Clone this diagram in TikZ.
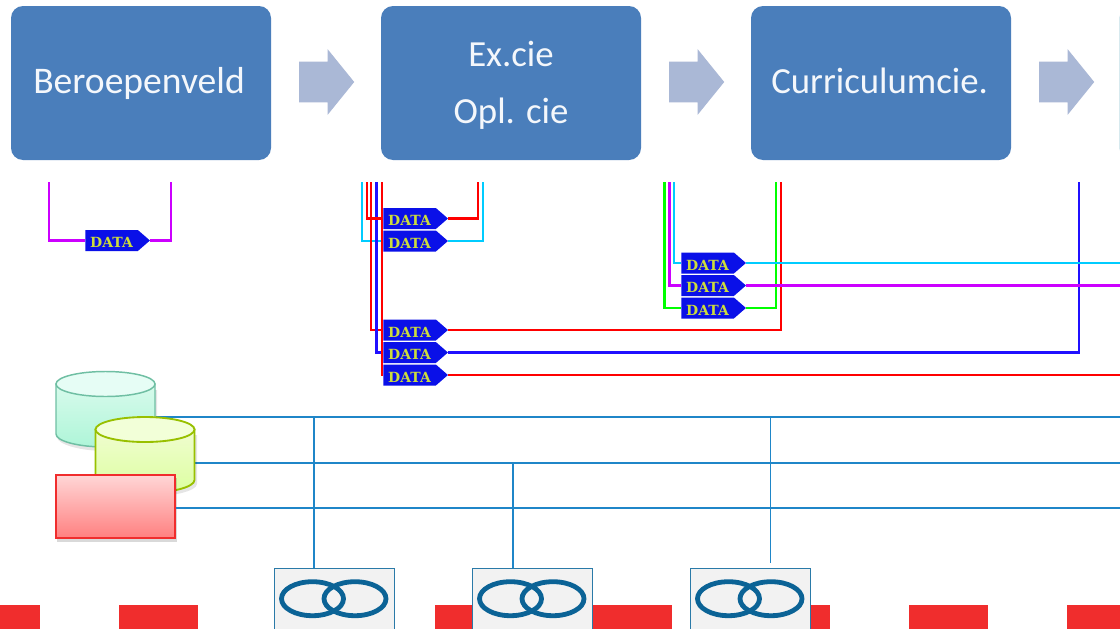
\documentclass[tikz,border=0pt]{standalone}
\usepackage{fontspec}
\setmainfont{Carlito}
\newfontfamily\datafont{DejaVu Serif}[BoldFont={DejaVu Serif Bold}]
\usetikzlibrary{shapes.geometric,shapes.symbols,shapes.arrows}
\definecolor{stepblue}{HTML}{4A7EBB}
\definecolor{stepteal}{HTML}{8FC4D4}
\definecolor{arrowblue}{HTML}{AAB8D6}
\definecolor{datablue}{HTML}{0A10E8}
\definecolor{datayellow}{HTML}{CCDC3C}
\definecolor{busblue}{HTML}{1F86C8}
\definecolor{ringblue}{HTML}{0B6396}
\definecolor{boxline}{HTML}{2A7AA8}
\definecolor{barred}{HTML}{F02D2D}
\definecolor{lmag}{HTML}{CC00FF}
\definecolor{lcyan}{HTML}{00CCFF}
\definecolor{lred}{HTML}{FF0000}
\definecolor{lblue}{HTML}{2010FF}
\definecolor{lgreen}{HTML}{00FF00}
\definecolor{tealline}{HTML}{6FBFA3}
\definecolor{tealtopc}{HTML}{E6FDF5}
\definecolor{tealbodyt}{HTML}{D8FBEC}
\definecolor{tealbodyb}{HTML}{AEF5D8}
\definecolor{yelline}{HTML}{98C000}
\definecolor{yeltopc}{HTML}{F2FFD8}
\definecolor{yelbodyt}{HTML}{F0FDD0}
\definecolor{yelbodyb}{HTML}{DCFFA0}
\definecolor{redt}{HTML}{FFD6D6}
\definecolor{redb}{HTML}{FF8080}
\tikzset{
  x=0.75pt,y=-0.75pt,
  stepbox/.style={rectangle,rounded corners=9pt,fill=stepblue,minimum width=195pt,minimum height=115.5pt,inner sep=0pt,
    text=white!94!stepblue,align=center,font=\fontsize{27.6}{42.75}\selectfont},
  flowarrow/.style={single arrow,fill=arrowblue,minimum height=41.25pt,inner xsep=0pt,inner ysep=15pt,
    single arrow head extend=9.4pt,single arrow tip angle=102},
  datatag/.style={signal,signal to=east,signal pointer angle=82,fill=datablue,text=datayellow,anchor=west,
    minimum width=48.5pt,minimum height=15.75pt,inner xsep=0pt,inner ysep=0pt,text height=10.8pt,text depth=0pt,
    font=\datafont\bfseries\fontsize{10.5}{10.5}\selectfont},
  wire/.style={line width=2.1pt},
  thinwire/.style={line width=1.6pt},
  bus/.style={line width=1.3pt,draw=busblue},
  netbox/.style={rectangle,draw=boxline,fill=black!5,minimum width=90pt,minimum height=60pt,anchor=north west,inner sep=0pt},
  ring/.style={ellipse,draw=ringblue,line width=3.6pt,minimum width=46.5pt,minimum height=25.5pt,inner sep=0pt},
  dbtop/.style={ellipse,inner sep=0pt,minimum width=74.25pt,minimum height=18.75pt,line width=1.1pt},
}
\begin{document}
\begin{tikzpicture}
\useasboundingbox (0,0) rectangle (1120,628);
\begin{scope}
\clip (0,0) rectangle (1120,628);
\fill[white] (0,0) rectangle (1120,628);

% red bars
\foreach \bx in {-39,119,277,435,593,751,909,1067}
  \fill[barred] (\bx,605) rectangle ++(79,30);

% steps
\node[stepbox,font=\fontsize{28.2}{42.75}\selectfont] (s1) at (141,83) {\rule{0pt}{15pt}\smash{Beroepenveld}\hspace{3pt}};
\node[stepbox] (s2) at (511,83) {\rule{0pt}{17.25pt}\smash{Ex.cie}\\\smash{Opl. cie}};
\node[stepbox] (s3) at (881,83) {\rule{0pt}{15pt}\smash{Curriculumcie.}\hspace{2pt}};
\node[stepbox,fill=stepteal] (s4) at (1249.5,83) {};
\node[flowarrow] (a1) at (318.5,82) {};
\node[flowarrow] (a2) at (688.5,82) {};
\node[flowarrow] (a3) at (1058.5,82) {};

% free ends
\coordinate (m1) at (49,182);  \coordinate (m2) at (171,182);
\coordinate (r1) at (367,182); \coordinate (r1b) at (478,182);
\coordinate (c1) at (362,182); \coordinate (c1b) at (483,182);
\coordinate (r2) at (371,182); \coordinate (r2b) at (781,182);
\coordinate (b2) at (376.5,182); \coordinate (b2b) at (1079,182);
\coordinate (r3) at (382,182); \coordinate (r3e) at (1120,375);
\coordinate (g1) at (664.5,182); \coordinate (g1b) at (776,182);
\coordinate (p1) at (669.5,182); \coordinate (p1e) at (1120,285);
\coordinate (q1) at (674,182); \coordinate (q1e) at (1120,262.5);

% data tags
\node[datatag] (d0) at (85,240.5) {DATA};
\node[datatag] (d1) at (383,218.5) {DATA};
\node[datatag] (d2) at (383,241) {DATA};
\node[datatag] (d3) at (383,330) {DATA};
\node[datatag] (d4) at (383,352.5) {DATA};
\node[datatag] (d5) at (383,375) {DATA};
\node[datatag] (d6) at (681,263) {DATA};
\node[datatag] (d7) at (681,285.5) {DATA};
\node[datatag] (d8) at (681,308) {DATA};

% connectors
\draw[wire,lmag] (m1) |- (d0.west);
\draw[wire,lmag] (d0.east) -| (m2);
\draw[wire,lcyan] (c1) |- (d2.west);
\draw[wire,lcyan] (d2.east) -| (c1b);
\draw[wire,lred] (r2) |- (d3.west);
\draw[wire,lred] (d3.east) -| (r2b);
\draw[thinwire,lblue] (b2) |- (d4.west);
\draw[thinwire,lblue] (d4.east) -| (b2b);
\draw[wire,lred] (r3) |- (d5.west);
\draw[wire,lred] (d5.east) -- (d5.east -| r3e);
\draw[wire,lred] (r1) |- (d1.west);
\draw[wire,lred] (d1.east) -| (r1b);
\draw[wire,lgreen] (g1) |- (d8.west);
\draw[wire,lgreen] (d8.east) -| (g1b);
\draw[wire,lmag] (p1) |- (d7.west);
\draw[wire,lmag] (d7.east) -- (d7.east -| p1e);
\draw[wire,lcyan] (q1) |- (d6.west);
\draw[wire,lcyan] (d6.east) -- (d6.east -| q1e);

% bus end points and junctions
\coordinate (e1) at (1120,417); \coordinate (e2) at (1120,463); \coordinate (e3) at (1120,508);
\coordinate (j1) at (314,417); \coordinate (j2) at (513,463); \coordinate (j3) at (770.5,417);
\coordinate (f3) at (770.5,563);

% net boxes
\node[netbox] (n1) at (274,568) {};
\node[netbox] (n2) at (472,568) {};
\node[netbox,line width=1.1pt] (n3) at (690,568) {};
\foreach \b/\ox in {1/274,2/472,3/690}{
  \node[ring] (ra\b) at (\ox+38.5,598.7) {};
  \node[ring] (rb\b) at (\ox+81,598.7) {};
}

% stores: teal cylinder
\node[dbtop] (tealdb) at (105.5,384) {};
\draw[bus] (e1 -| tealdb.east) -- (e1);
\fill[black,opacity=.10] (57,390) -- (57,437) .. controls (57,444) and (79,451) .. (106,451) .. controls (134,451) and (157,444) .. (157,437) -- (157,390) -- cycle;
\shade[top color=tealbodyt,bottom color=tealbodyb,draw=tealline,line width=1.1pt]
  (56,384) -- (56,434) .. controls (56,441) and (78,447) .. (105.5,447) .. controls (133,447) and (155,441) .. (155,434) -- (155,384) -- cycle;
\node[dbtop,draw=tealline,fill=tealtopc] (tealtop) at (105.5,384) {};

% stores: yellow cylinder
\node[dbtop] (yeldb) at (145,429.5) {};
\draw[bus] (e2 -| yeldb.east) -- (e2);
\fill[black,opacity=.10] (97,435) -- (97,484) .. controls (97,491) and (118,497) .. (145,497) .. controls (172,497) and (197,491) .. (197,484) -- (197,435) -- cycle;
\shade[top color=yelbodyt,bottom color=yelbodyb,draw=yelline,line width=1.4pt]
  (95.5,429.5) -- (95.5,480) .. controls (95.5,487) and (118,493) .. (145,493) .. controls (172,493) and (194.5,487) .. (194.5,480) -- (194.5,429.5) -- cycle;
\node[dbtop,draw=yelline,line width=1.4pt,fill=yeltopc] (yeltop) at (145,429.5) {};

% stores: red box
\fill[black,opacity=.15] (57,478) rectangle (177,542);
\node[rectangle,draw=barred,line width=1.4pt,top color=redt,bottom color=redb,minimum width=89.25pt,minimum height=47.25pt,inner sep=0pt] (redbox) at (115.5,506.5) {};
\draw[bus] (redbox.east |- e3) -- (e3);

% verticals
\draw[bus] (j1) -- (j1 |- n1.north);
\draw[bus] (j2) -- (j2 |- n2.north);
\draw[bus] (j3) -- (f3);
\end{scope}
\end{tikzpicture}
\end{document}
